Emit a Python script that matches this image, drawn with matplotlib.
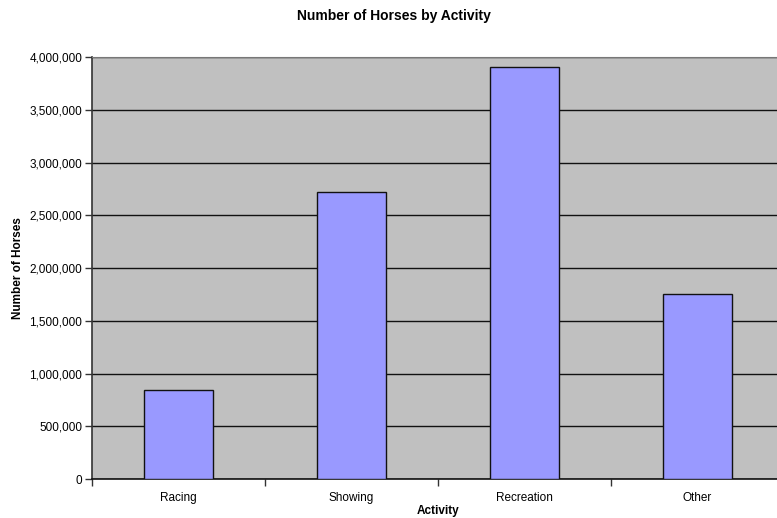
import matplotlib
matplotlib.use('Agg')
import matplotlib.pyplot as plt
import numpy as np
from matplotlib.ticker import FuncFormatter, MultipleLocator

plt.rcParams['font.family'] = ['Liberation Sans', 'DejaVu Sans']

# data
activities = ['Racing', 'Showing', 'Recreation', 'Other']
horses = [844531, 2718954, 3906923, 1752439]

fig = plt.figure(figsize=(7.77, 5.18), dpi=100)
# plot area runs a little past the right edge of the image
ax = fig.add_axes([92 / 777, 1 - 479 / 518, (784 - 92) / 777, (479 - 57) / 518])
ax.set_facecolor('#C0C0C0')

x = np.arange(len(activities))
ax.bar(x, horses, width=0.4, color='#9999FF', edgecolor='#111111', linewidth=1.0, zorder=3)

ax.set_xlim(-0.5, len(activities) - 0.5)
ax.set_ylim(0, 4000000)
ax.yaxis.set_major_locator(MultipleLocator(500000))
ax.yaxis.set_major_formatter(FuncFormatter(lambda v, p: f'{int(v):,}'))
ax.grid(True, axis='y', color='#111111', linewidth=1.0, zorder=0)
ax.set_axisbelow(True)

# category labels centered, tick marks at category boundaries
ax.set_xticks(x)
ax.set_xticklabels(activities, fontsize=8.5, va='baseline')
ax.tick_params(axis='x', length=0, pad=15.5)
ax.set_xticks(np.arange(-0.5, len(activities), 1.0), minor=True)
ax.tick_params(axis='x', which='minor', length=5, width=1, color='#333333', direction='out')
ax.tick_params(axis='y', labelsize=8.5, length=5, width=1, color='#333333', direction='out', pad=2)

ax.spines['right'].set_visible(False)
ax.spines['top'].set_color('#777777')
ax.spines['left'].set_color('#333333')
ax.spines['left'].set_linewidth(1.2)
ax.spines['bottom'].set_color('#111111')
ax.spines['bottom'].set_linewidth(1.2)

ax.set_ylabel('Number of Horses', fontsize=8.5, fontweight='bold', labelpad=4)
fig.text(438 / 777, 4 / 518, 'Activity', ha='center', va='baseline',
         fontsize=8.5, fontweight='bold')
fig.text(394 / 777, 1 - 16 / 518, 'Number of Horses by Activity', ha='center', va='center',
         fontsize=10, fontweight='bold')

plt.savefig('out.png', dpi=100)
plt.close()
